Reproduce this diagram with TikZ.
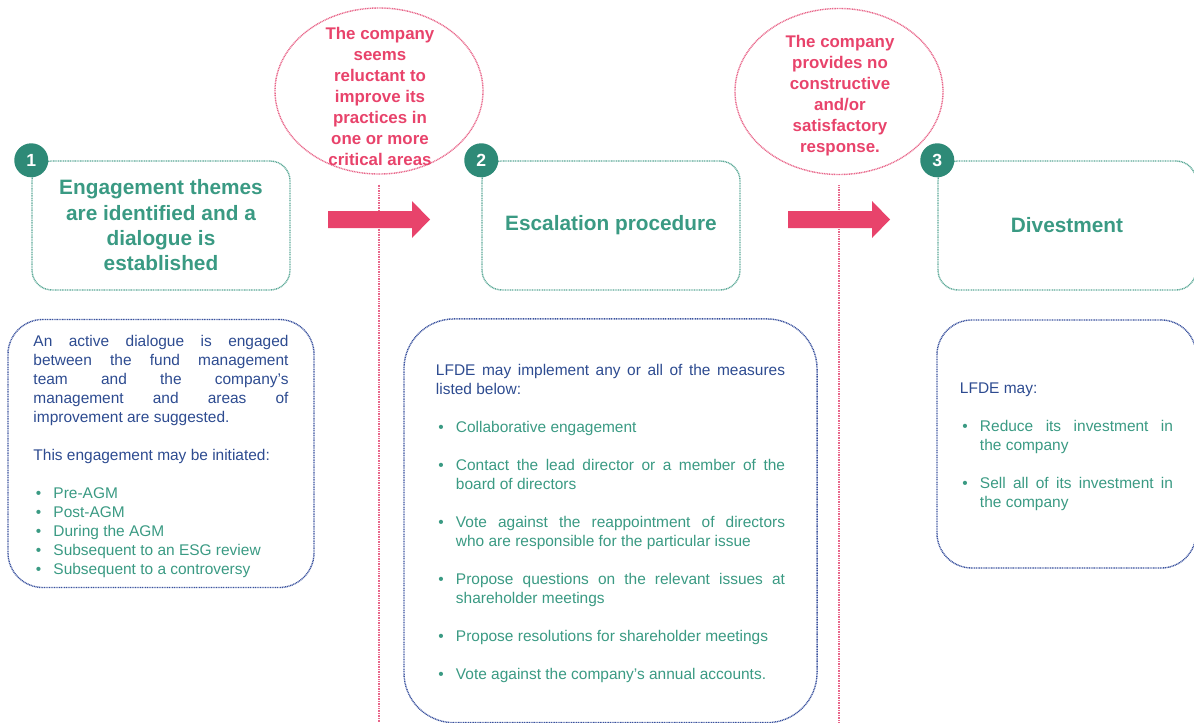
\documentclass[tikz,border=0pt]{standalone}
\usepackage{fontspec}
\setmainfont{Liberation Sans}
\usepackage {tikz}
\usetikzlibrary {positioning}
\usetikzlibrary{shapes.geometric}
\usetikzlibrary{calc}
\definecolor{stepgreen}{HTML}{3A9A83}
\definecolor{dotgreen}{HTML}{2E8A77}
\definecolor{edgegreen}{HTML}{5AA896}
\definecolor{warnpink}{HTML}{E8436B}
\definecolor{edgepink}{HTML}{E8668A}
\definecolor{infoblue}{HTML}{2D4B90}
\definecolor{edgeblue}{HTML}{3A529E}
\newcommand{\itm}[1]{\par\noindent\hangindent=0.5cm\hangafter=1
    \makebox[0.5cm][l]{\hspace{0.06cm}\textcolor{stepgreen}{\textbullet}}\textcolor{stepgreen}{#1}}
\newcommand{\topstrut}{\rule{0pt}{12pt}}
\tikzset{
    fine dots/.style = {dash pattern=on 0.7pt off 0.5pt, line width=1pt},
    stepbox/.style = {rectangle, draw=edgegreen, fine dots, rounded corners=0.5cm,
        minimum width=6.45cm, minimum height=3.225cm, align=center, text=stepgreen,
        font=\fontsize{14.8}{18}\selectfont\bfseries},
    numdot/.style = {circle, fill=dotgreen, text=white, minimum size=0.85cm, inner sep=0pt,
        font=\fontsize{12.5}{14}\selectfont\bfseries},
    infobox/.style = {rectangle, draw=edgeblue, fine dots, inner sep=0pt, align=justify,
        text=infoblue, font=\fontsize{11}{13.5}\selectfont},
    cond/.style = {ellipse, draw=edgepink, fine dots, minimum width=5.2cm,
        minimum height=4.15cm, inner sep=0pt},
    condtext/.style = {align=center, text=warnpink, inner sep=0pt,
        font=\fontsize{12}{14.9}\selectfont\bfseries},
    condline/.style = {draw=edgepink, fine dots, shorten <=0.25cm},
    push/.style = {fill=warnpink}}

\begin{document}
\begin{tikzpicture}[x=0.025cm, y=-0.025cm]
    \useasboundingbox (0,0) rectangle (1194,722);
    \coordinate (bot) at (0,722);
    % conditions between the steps
    \node[cond] (cond1) at (379,91) {};
    \node[condtext] (cond1txt) at (380,96.3) {The company\\seems\\reluctant to\\improve its\\practices in\\one or more\\critical areas};
    \node[cond] (cond2) at (839,91.5) {};
    \node[condtext] (cond2txt) at (840,95.8) {The company\\provides no\\constructive\\and/or\\satisfactory\\response.};
    \draw[condline] (cond1.south) -- (cond1.south |- bot);
    \draw[condline] (cond2.south) -- (cond2.south |- bot);
    \path (379,219.5) coordinate (arr1) (839,219.5) coordinate (arr2);
    \foreach \a in {arr1,arr2}
        \fill[push] (\a) ++(-51,-8.5) -- ++(84,0) -- ++(0,-10) -- ++(18,18.5)
            -- ++(-18,18.5) -- ++(0,-10) -- ++(-84,0) -- cycle;
    % steps
    \node[stepbox] (step1) at (161,225.5) {Engagement themes\\are identified and a\\dialogue is\\established};
    \node[stepbox] (step2) at (611,225.5) {Escalation procedure};
    \node[stepbox] (step3) at (1067,225.5) {Divestment};
    \foreach \i in {1,2,3}
        \node[numdot] (num\i) at (step\i.north west) {\i};
    % details below each step
    \node[infobox, rounded corners=0.875cm, minimum width=7.65cm, minimum height=6.7cm, text width=6.375cm]
        (info1) at (161,453.5) {\noindent\topstrut An active dialogue is engaged\linebreak between the fund management\linebreak
        team and the company's\linebreak management and areas of\linebreak improvement are suggested.\par\vspace{13.5pt}
        \noindent This engagement may be initiated:\par\vspace{13.5pt}
        \itm{Pre-AGM}\itm{Post-AGM}\itm{During the AGM}\itm{Subsequent to an ESG review}
        \itm{Subsequent to a controversy}\par};
    \node[infobox, rounded corners=1.25cm, minimum width=10.325cm, minimum height=10.09cm, text width=8.725cm]
        (info2) at (610.5,520.8) {\setlength{\parskip}{13.5pt}\noindent\topstrut LFDE may implement any or all of the measures\linebreak listed below:
        \itm{Collaborative engagement}
        \itm{Contact the lead director or a member of the\linebreak board of directors}
        \itm{Vote against the reappointment of directors\linebreak who are responsible for the particular issue}
        \itm{Propose questions on the relevant issues at\linebreak shareholder meetings}
        \itm{Propose resolutions for shareholder meetings}
        \itm{Vote against the company's annual accounts.}\par};
    \node[infobox, rounded corners=0.875cm, minimum width=6.475cm, minimum height=6.2cm, text width=5.325cm]
        (info3) at (1066.5,444) {\setlength{\parskip}{13.5pt}\noindent\topstrut LFDE may:
        \itm{Reduce its investment in\linebreak the company}
        \itm{Sell all of its investment in\linebreak the company}\par};
\end{tikzpicture}
\end{document}
